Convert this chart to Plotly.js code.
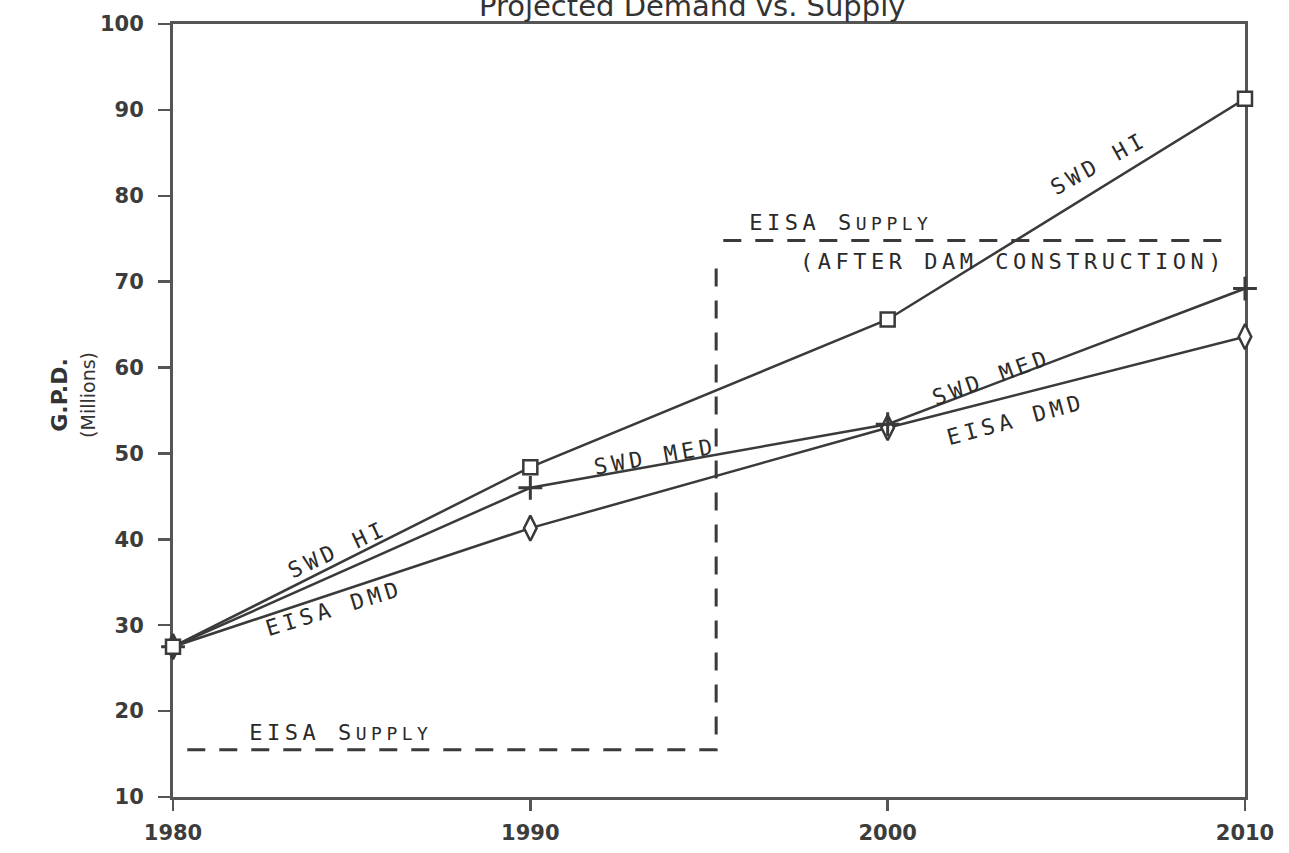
<!DOCTYPE html>
<html>
<head>
<meta charset="utf-8">
<script src="https://cdn.plot.ly/plotly-3.0.1.min.js"></script>
<style>
html,body{margin:0;padding:0;background:#fff;}
#chart{width:1289px;height:853px;}
#chart .annotation .annotation-text{letter-spacing:4.5px;}
#chart .annotation[data-index="9"] .annotation-text{letter-spacing:0;}
</style>
</head>
<body>
<div id="chart"></div>
<script>
// ---- data ----
const years = [1980, 1990, 2000, 2010];
const swdHi = [27.5, 48.4, 65.6, 91.3];
const swdMed = [27.5, 46.0, 53.4, 69.2];
const eisaDmd = [27.5, 41.3, 53.0, 63.6];
// EISA supply: before dam (step down to the vertical) and after dam construction
const supplyBeforeX = [1980.4, 1995.2, 1995.2];
const supplyBeforeY = [15.5, 15.5, 72.6];
const supplyAfterX = [1995.4, 2009.7];
const supplyAfterY = [74.8, 74.8];
const xTickVals = [1980, 1990, 2000, 2010];
const yTickVals = [10, 20, 30, 40, 50, 60, 70, 80, 90, 100];

const ink = '#3a3a3a';
const labelFont = {family: 'DejaVu Sans Mono, Liberation Mono, monospace', size: 22, color: '#2a2a2a'};

const dashLine = {color: ink, width: 3, dash: '18px,14px'};
const traces = [
  {x: supplyBeforeX, y: supplyBeforeY, mode: 'lines', line: dashLine, hoverinfo: 'skip', cliponaxis: false},
  {x: supplyAfterX, y: supplyAfterY, mode: 'lines', line: dashLine, hoverinfo: 'skip', cliponaxis: false},
  {x: years, y: eisaDmd, mode: 'lines+markers', line: {color: ink, width: 2.5},
   marker: {symbol: 'diamond-tall', size: 18, color: '#fff', line: {color: ink, width: 2.5}}, cliponaxis: false},
  {x: years, y: swdMed, mode: 'lines+markers', line: {color: ink, width: 2.5},
   marker: {symbol: 'cross-thin', size: 17, color: ink, line: {color: ink, width: 3}}, cliponaxis: false},
  {x: years, y: swdHi, mode: 'lines+markers', line: {color: ink, width: 2.5},
   marker: {symbol: 'square', size: 14, color: '#fff', line: {color: ink, width: 2.5}}, cliponaxis: false}
];

function lab(x, y, text, angle) {
  return {x: x, y: y, xref: 'x', yref: 'y', text: text, showarrow: false, textangle: angle || 0, font: labelFont};
}
const small = s => '<span style="font-size:18px">' + s + '</span>';

const annotations = [
  lab(1984.6, 38.8, 'SWD HI', -25),
  lab(1984.5, 32.0, 'EISA DMD', -17),
  lab(1993.5, 49.6, 'SWD MED', -10),
  lab(2005.9, 83.8, 'SWD HI', -29),
  lab(1998.7, 76.9, 'EISA S' + small('UPPLY'), 0),
  lab(2003.5, 72.3, '(AFTER DAM CONSTRUCTION)', 0),
  lab(2002.9, 58.9, 'SWD MED', -20),
  lab(2003.6, 53.9, 'EISA DMD', -15),
  lab(1984.7, 17.5, 'EISA S' + small('UPPLY'), 0),
  {xref: 'paper', yref: 'paper', x: -0.12, y: 0.52, showarrow: false, textangle: -90,
   text: 'G.P.D.<br><span style="font-size:19px;font-weight:normal">(Millions)</span>',
   font: {family: 'DejaVu Sans, sans-serif', size: 22, color: '#333', weight: 'bold'}}
];

const tickFont = {family: 'DejaVu Sans, sans-serif', size: 21, color: '#3c3c3c', weight: 'bold'};

const layout = {
  width: 1289, height: 853,
  margin: {l: 173, r: 44, t: 24, b: 56},
  paper_bgcolor: '#fff', plot_bgcolor: '#fff',
  showlegend: false,
  title: {text: 'Projected Demand vs. Supply', x: 0.537, xanchor: 'center', yref: 'container', y: 1 - 6/853, yanchor: 'middle',
          font: {family: 'DejaVu Sans, sans-serif', size: 29, color: '#333'}},
  xaxis: {range: [1980, 2010], tickvals: xTickVals, ticktext: xTickVals.map(String),
          showgrid: false, zeroline: false, showline: true, mirror: true, linecolor: '#555', linewidth: 3,
          ticks: 'outside', ticklen: 11, tickwidth: 2.5, tickcolor: '#555', tickfont: tickFont,
          ticklabelstandoff: 4, layer: 'below traces'},
  yaxis: {range: [10, 100], tickvals: yTickVals, ticktext: yTickVals.map(String),
          showgrid: false, zeroline: false, showline: true, mirror: true, linecolor: '#555', linewidth: 3,
          ticks: 'outside', ticklen: 12, tickwidth: 2.5, tickcolor: '#555', tickfont: tickFont,
          ticklabelstandoff: 10, layer: 'below traces'},
  annotations: annotations
};

Plotly.newPlot('chart', traces, layout, {displayModeBar: false, staticPlot: true});
</script>
</body>
</html>
